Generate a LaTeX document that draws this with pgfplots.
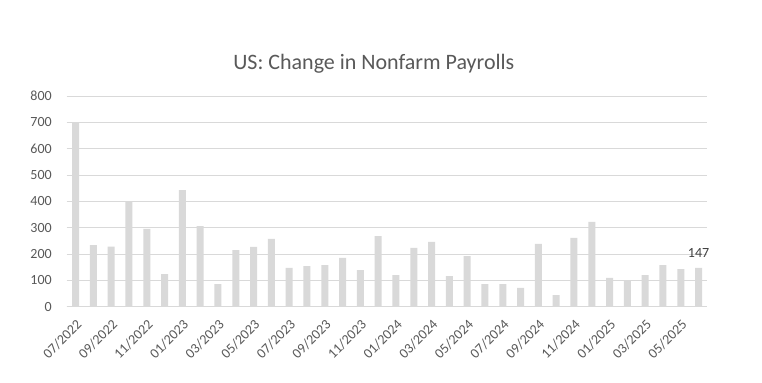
\documentclass[border=0pt]{standalone}
\usepackage{fontspec}
\setmainfont{Carlito}
\usepackage{pgfplots}
\pgfplotsset{compat=1.18}
\definecolor{barc}{HTML}{D9D9D9}
\definecolor{gridc}{HTML}{D9D9D9}
\definecolor{txtc}{HTML}{595959}
\definecolor{lblc}{HTML}{404040}
\begin{document}
\begin{tikzpicture}
\path[fill=white] (0,0) rectangle (571.5pt,286.5pt);
\node[text=txtc, font=\fontsize{16.5}{18}\selectfont, anchor=base] at (280.35pt,234.5pt) {US: Change in Nonfarm Payrolls};
\begin{axis}[
  at={(50.0pt,56.5pt)}, anchor=south west,
  scale only axis, width=480.6pt, height=158pt,
  xmin=-0.5, xmax=35.5, ymin=0, ymax=800,
  ytick={0,100,...,800},
  xtick={0,2,...,34},
  xticklabels={07/2022,09/2022,11/2022,01/2023,03/2023,05/2023,07/2023,09/2023,11/2023,01/2024,03/2024,05/2024,07/2024,09/2024,11/2024,01/2025,03/2025,05/2025},
  axis line style={draw=none},
  major tick length=0pt,
  ymajorgrids, grid style={gridc, line width=0.75pt},
  tick label style={text=txtc, font=\fontsize{10.5}{12}\selectfont},
  /pgf/number format/assume math mode=true,
  yticklabel style={inner sep=0pt, xshift=-11pt},
  xticklabel style={yshift=-8.5pt, xshift=0pt, rotate=45, anchor=north east, inner sep=0pt},
  clip=false,
]
\draw[gridc, line width=0.75pt] (axis cs:-0.5,0) -- (axis cs:35.5,0);
\addplot[ybar, bar width=5.25pt, fill=barc, draw=none] coordinates {
(0,700) (1,234) (2,228) (3,400) (4,295) (5,124) (6,443) (7,306) (8,86) (9,215) (10,227) (11,257)
(12,147) (13,154) (14,158) (15,185) (16,139) (17,268) (18,120) (19,223) (20,246) (21,116) (22,192) (23,86)
(24,86) (25,71) (26,238) (27,44) (28,261) (29,322) (30,109) (31,101) (32,120) (33,158) (34,143) (35,147)
};
\addplot[ybar, bar width=5.25pt, fill=none, draw=none, nodes near coords,
  every node near coord/.append style={text=lblc, font=\fontsize{10.5}{12}\selectfont, yshift=4pt}] coordinates {(35,147)};
\end{axis}
\end{tikzpicture}
\end{document}
